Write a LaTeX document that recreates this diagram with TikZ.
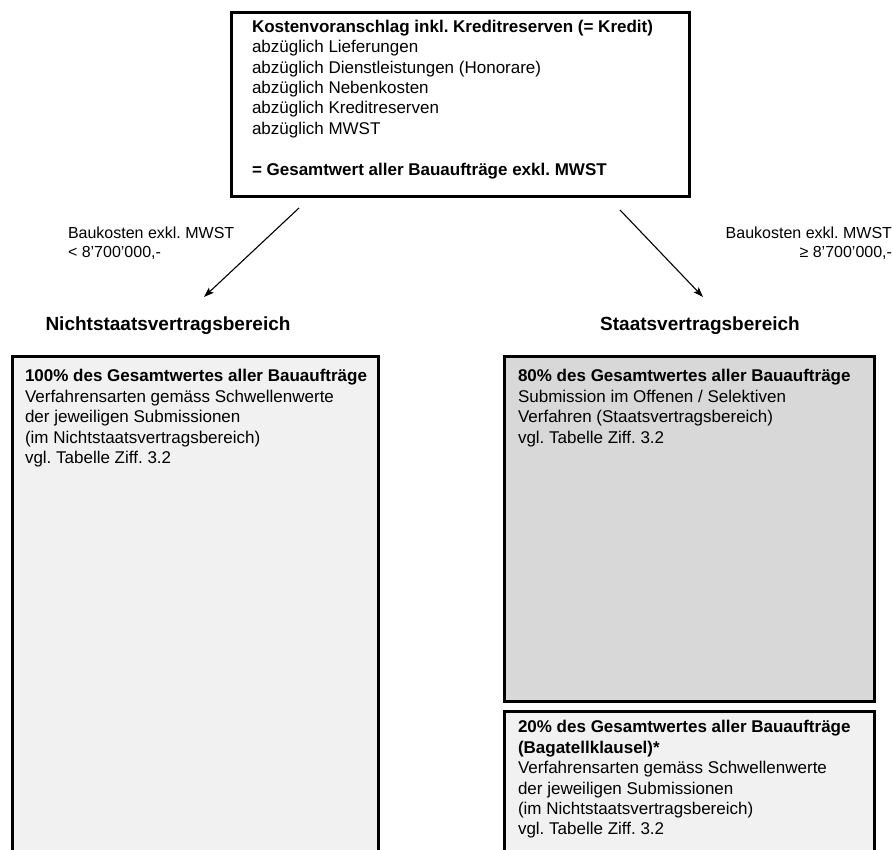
\documentclass[tikz,border=0pt]{standalone}
\usepackage{fontspec}
\setmainfont{Liberation Sans}
\usepackage{tikz}
\usetikzlibrary{arrows.meta,positioning}
\frenchspacing
\definecolor{hellgrau}{HTML}{F1F1F1}
\definecolor{mittelgrau}{HTML}{D8D8D8}
\tikzstyle{box} = [draw, line width=3pt, rectangle, anchor=north west, inner sep=0pt, outer sep=0pt]
\tikzstyle{boxtext} = [align=left, inner sep=0pt, outer sep=0pt, font=\fontsize{17}{20.4}\selectfont]
\tikzstyle{cond} = [inner sep=0pt, outer sep=0pt, font=\fontsize{16}{19}\selectfont]
\tikzstyle{titel} = [inner sep=0pt, font=\fontsize{19}{23}\selectfont\bfseries]

\begin{document}
\begin{tikzpicture}[x=1pt,y=-1pt,->,>={Stealth[length=10pt,width=7pt,inset=2pt]},line width=1.1pt]
\useasboundingbox (0,0) rectangle (893,850);
\fill[white] (0,0) rectangle (893,850);
\clip (0,0) rectangle (893,850);

\node[box, fill=white, minimum width=458pt, minimum height=184pt] (kosten) at (231,13) {};
\node[boxtext, below right=7pt and 21pt of kosten.north west, anchor=north west] (kostentext) {\textbf{Kostenvoranschlag inkl. Kreditreserven (= Kredit)}\\
abzüglich Lieferungen\\
abzüglich Dienstleistungen (Honorare)\\
abzüglich Nebenkosten\\
abzüglich Kreditreserven\\
abzüglich MWST\\[20.4pt]
\textbf{= Gesamtwert aller Bauaufträge exkl. MWST}};

\node[cond, align=left, anchor=north west] (links) at (68,227) {Baukosten exkl. MWST\\< 8’700’000,-};
\node[cond, align=right, anchor=north east] (rechts) at (892,227) {Baukosten exkl. MWST\\≥ 8’700’000,-};

\node[titel] (nsvtitel) at (168,326) {Nichtstaatsvertragsbereich};
\node[titel] (svtitel) at (700,326) {Staatsvertragsbereich};

\node[box, fill=hellgrau, minimum width=366pt, minimum height=540pt] (nsv) at (12,356) {};
\node[boxtext, below right=13.5pt and 13pt of nsv.north west, anchor=north west] (nsvtext) {\textbf{100\% des Gesamtwertes aller Bauaufträge}\\
Verfahrensarten gemäss Schwellenwerte\\
der jeweiligen Submissionen\\
(im Nichtstaatsvertragsbereich)\\
vgl. Tabelle Ziff. 3.2};

\node[box, fill=mittelgrau, minimum width=370pt, minimum height=345pt] (sv80) at (504,356) {};
\node[boxtext, below right=13.5pt and 14pt of sv80.north west, anchor=north west] (sv80text) {\textbf{80\% des Gesamtwertes aller Bauaufträge}\\
Submission im Offenen / Selektiven\\
Verfahren (Staatsvertragsbereich)\\
vgl. Tabelle Ziff. 3.2};

\node[box, fill=hellgrau, minimum width=370pt, minimum height=200pt] (sv20) at (504,711) {};
\node[boxtext, below right=9.5pt and 14pt of sv20.north west, anchor=north west] (sv20text) {\textbf{20\% des Gesamtwertes aller Bauaufträge}\\
\textbf{(Bagatellklausel)*}\\
Verfahrensarten gemäss Schwellenwerte\\
der jeweiligen Submissionen\\
(im Nichtstaatsvertragsbereich)\\
vgl. Tabelle Ziff. 3.2};

\coordinate (lstart) at (299,208);
\coordinate (lende) at (204,297);
\coordinate (rstart) at (620,210);
\coordinate (rende) at (703,297);

\path
(lstart) edge [] node {} (lende)
(rstart) edge [] node {} (rende);
\end{tikzpicture}
\end{document}
